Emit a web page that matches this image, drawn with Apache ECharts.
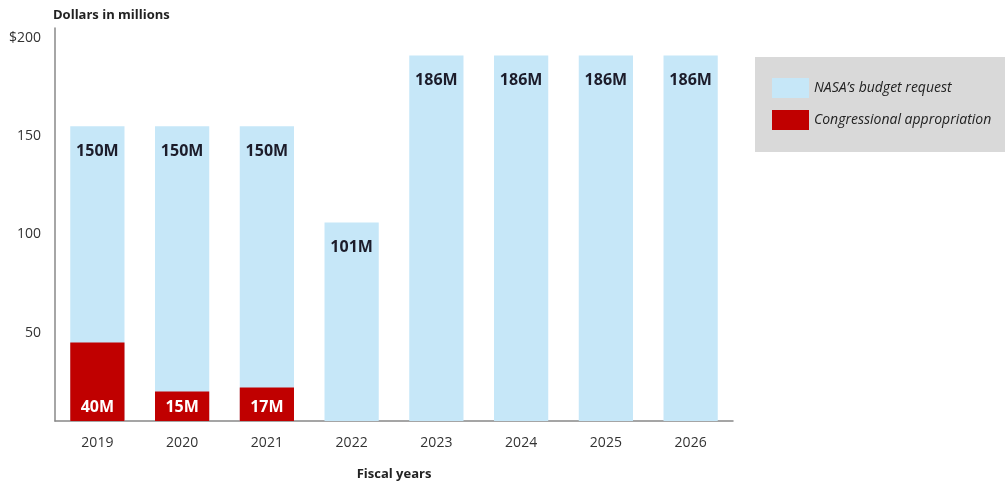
<!DOCTYPE html>
<html>
<head>
<meta charset="utf-8">
<script src="https://cdn.jsdelivr.net/npm/echarts@6/dist/echarts.min.js"></script>
<style>
  html, body { margin: 0; padding: 0; background: #fff; }
  #main { width: 1005px; height: 486px; }
</style>
</head>
<body>
<div id="main"></div>
<script>
var years = ['2019', '2020', '2021', '2022', '2023', '2024', '2025', '2026'];
var requestValues = [150, 150, 150, 101, 186, 186, 186, 186];
var appropriationValues = [40, 15, 17, null, null, null, null, null];
var yTicks = [0, 50, 100, 150, 200];

var myChart = echarts.init(document.getElementById('main'));

var font = '"Open Sans", "Noto Sans", sans-serif';

var option = {
  animation: false,
  textStyle: { fontFamily: font },
  legend: {
    left: 755,
    top: 57,
    orient: 'vertical',
    backgroundColor: '#d9d9d9',
    padding: [21, 40, 22, 17],
    itemWidth: 37,
    itemHeight: 20,
    itemGap: 12,
    icon: 'rect',
    textStyle: { fontFamily: font, fontSize: 14, fontStyle: 'italic', color: '#222' },
    data: ['NASA\u2019s budget request', 'Congressional appropriation']
  },
  grid: { left: 55, right: 272, top: 28, bottom: 64 },
  xAxis: {
    type: 'category',
    data: years,
    name: 'Fiscal years',
    nameLocation: 'middle',
    nameGap: 47,
    nameTextStyle: { fontFamily: font, fontSize: 13, fontWeight: 'bold', color: '#222' },
    axisLine: { lineStyle: { color: '#888', width: 1.5 } },
    axisTick: { show: false },
    axisLabel: { fontFamily: font, fontSize: 14, color: '#333', margin: 15 }
  },
  yAxis: {
    type: 'value',
    min: yTicks[0],
    max: yTicks[yTicks.length - 1],
    interval: 50,
    name: 'Dollars in millions',
    nameLocation: 'end',
    nameGap: 6,
    nameTextStyle: { fontFamily: font, fontSize: 13, fontWeight: 'bold', color: '#222', align: 'left', padding: [0, 0, 0, -2] },
    axisLine: { show: true, lineStyle: { color: '#888', width: 1.5 } },
    axisTick: { show: false },
    splitLine: { show: false },
    axisLabel: {
      fontFamily: font,
      fontSize: 14,
      color: '#333',
      margin: 14,
      verticalAlign: 'top',
      padding: [3, 0, 0, 0],
      formatter: function (v) {
        if (v === 0) return '';
        if (v === 200) return '$200';
        return v;
      }
    }
  },
  series: [
    {
      name: 'NASA\u2019s budget request',
      type: 'bar',
      data: requestValues,
      barWidth: '64%',
      barGap: '-100%',
      itemStyle: { color: '#c6e7f8' },
      label: {
        show: true,
        position: 'insideTop',
        distance: 17,
        fontFamily: font,
        fontSize: 16,
        fontWeight: 'bold',
        color: '#1c1c2a',
        formatter: '{c}M'
      }
    },
    {
      name: 'Congressional appropriation',
      type: 'bar',
      data: appropriationValues,
      barWidth: '64%',
      itemStyle: { color: '#c00000' },
      label: {
        show: true,
        position: 'insideBottom',
        distance: 6,
        fontFamily: font,
        fontSize: 16,
        fontWeight: 'bold',
        color: '#fff',
        formatter: '{c}M'
      }
    }
  ]
};
myChart.setOption(option);
</script>
</body>
</html>
